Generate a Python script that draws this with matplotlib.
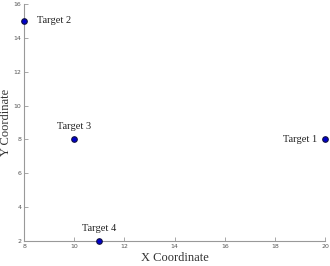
import matplotlib
matplotlib.use("Agg")
import matplotlib.pyplot as plt

names = ["Target 1", "Target 2", "Target 3", "Target 4"]
xs = [20, 8, 10, 11]
ys = [8, 15, 8, 2]
offsets = [(-6, 0), (9, 0), (0, 6), (0, 6)]
has = ["right", "left", "center", "center"]
vas = ["center", "center", "bottom", "bottom"]

fig = plt.figure(figsize=(3.3, 2.66), dpi=100)
ax = fig.add_axes([0.073, 0.094, 0.912, 0.891])
ax.scatter(xs, ys, s=16, c="#0000cc", edgecolors="#101040", linewidths=0.8, zorder=3, clip_on=False)
for n, x, y, off, ha, va in zip(names, xs, ys, offsets, has, vas):
    ax.annotate(n, (x, y), xytext=off, textcoords="offset points", ha=ha, va=va,
                fontsize=7.5, family="Liberation Serif", color="#222222")
ax.set_xlim(8, 20)
ax.set_ylim(2, 16)
ax.set_xticks(range(8, 21, 2))
ax.set_yticks(range(2, 17, 2))
for s in ["top", "right"]:
    ax.spines[s].set_visible(False)
for s in ["left", "bottom"]:
    ax.spines[s].set_color("#999999")
    ax.spines[s].set_linewidth(0.8)
ax.tick_params(direction="in", length=3, width=0.6, color="#999999", labelsize=4.5, labelcolor="#555555", pad=2)
ax.set_xlabel("X Coordinate", family="Liberation Serif", fontsize=9, color="#333333", labelpad=2)
ax.set_ylabel("Y Coordinate", family="Liberation Serif", fontsize=9, color="#333333", labelpad=1)
fig.savefig("out.png", dpi=100)
